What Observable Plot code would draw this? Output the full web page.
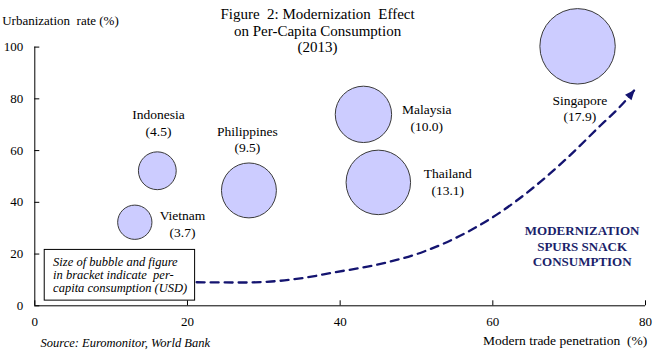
<!DOCTYPE html>
<html><head><meta charset="utf-8">
<script src="https://cdn.jsdelivr.net/npm/d3@7"></script>
<script src="https://cdn.jsdelivr.net/npm/@observablehq/plot@0.6"></script>
<style>
html,body{margin:0;padding:0;background:#fff;}
#chart svg, #chart svg text{font-family:"Liberation Serif","Times New Roman","DejaVu Serif",serif !important;white-space:pre;}
</style></head><body><div id="chart"></div>
<script>
// ---- data ----
const countries = ["Indonesia", "Philippines", "Vietnam", "Malaysia", "Thailand", "Singapore"];
const tradePenetration = [16.05, 28.05, 13.1, 43.05, 45.0, 71.1];   // x (%)
const urbanization     = [52.2, 44.6, 32.3, 74.0, 47.7, 100.3];       // y (%)
const consumption      = [4.5, 9.5, 3.7, 10.0, 13.1, 17.9];           // per-capita USD (bubble size)
const labelX = [16.2, 27.85, 19.35, 51.35, 54.1, 71.4];
const labelY = [70.9, 64.5, 31.9, 72.85, 48.1, 76.6];

// dashed trend arrow
const curveX = [21.2, 27.0, 31.0, 34.8, 39.2, 45.3, 51.0, 56.2, 61.0, 65.4, 69.8, 74.1, 76.8, 78.5];
const curveY = [9.1, 9.0, 9.4, 10.6, 12.9, 16.2, 21.0, 27.8, 36.2, 45.9, 57.3, 69.7, 77.4, 83.2];

const xTicks = [0, 20, 40, 60, 80];
const yTicks = [0, 20, 40, 60, 80, 100];

const titleLines = ["Figure  2: Modernization  Effect", "on Per-Capita Consumption", "(2013)"];
const yTitle = "Urbanization  rate (%)";
const xTitle = "Modern trade penetration  (%)";
const sourceText = "Source: Euromonitor, World Bank";
const noteLines = ["Size of bubble and figure", "in bracket indicate  per-", "capita consumption (USD)"];
const noteBoxX = [1.3, 21.0];
const noteBoxY = [2.0, 21.6];
const noteTextPos = [2.4, 12.0];
const msgLines = ["MODERNIZATION", "SPURS SNACK", "CONSUMPTION"];
const msgPos = [71.7, 23.3];

// ---- layout ----
const W = 666, H = 353;
const mL = 34.3, mR = 21, mT = 46.6, mB = 47.7;
const frameW = W - mL - mR, frameH = H - mT - mB;
const serif = "Liberation Serif";
const navy = "#141470";

const bubbles = countries.map((c, i) => ({c, x: tradePenetration[i], y: urbanization[i], v: consumption[i], lx: labelX[i], ly: labelY[i]}));
const curve = curveX.map((x, i) => ({x, y: curveY[i]}));

const chart = Plot.plot({
  width: W, height: H,
  marginLeft: mL, marginRight: mR, marginTop: mT, marginBottom: mB,
  style: {fontFamily: serif, fontSize: "13px", color: "#000", background: "#fff"},
  x: {domain: [0, 80], ticks: xTicks, tickSize: 0, tickPadding: 11, label: null},
  y: {domain: [0, 100], ticks: yTicks, tickSize: 0, tickPadding: 11.5, label: null},
  r: {type: "sqrt", domain: [0, 17.9], range: [0, 37.7]},
  marks: [
    Plot.ruleY([0], {stroke: "#000", strokeWidth: 1}),
    Plot.ruleX([0], {stroke: "#000", strokeWidth: 1}),
    Plot.tickX(xTicks, {x: d => d, insetTop: frameH - 5, stroke: "#000"}),
    Plot.tickY(yTicks, {y: d => d, insetRight: frameW - 5, stroke: "#000"}),
    Plot.line(curve, {x: "x", y: "y", curve: "monotone-x", stroke: navy, strokeWidth: 2.3, strokeDasharray: "8,6", markerEnd: "arrow"}),
    Plot.rect([0], {x1: noteBoxX[0], x2: noteBoxX[1], y1: noteBoxY[0], y2: noteBoxY[1], fill: "#fff", stroke: "#000", strokeWidth: 1}),
    Plot.text([noteLines.join("\n")], {x: noteTextPos[0], y: noteTextPos[1], textAnchor: "start", fontFamily: serif, fontStyle: "italic", fontSize: 12.5, lineHeight: 1.07, fill: "#000"}),
    Plot.dot(bubbles, {x: "x", y: "y", r: "v", fill: "#ccccff", stroke: "#3a3a3a", strokeWidth: 1}),
    Plot.text(bubbles, {x: "lx", y: "ly", text: d => `${d.c}\n(${d.v.toFixed(1)})`, fontFamily: serif, fontSize: 13.5, lineHeight: 1.2, fill: "#000"}),
    Plot.text([msgLines.join("\n")], {x: msgPos[0], y: msgPos[1], fontFamily: serif, fontWeight: "bold", fontSize: 13, lineHeight: 1.2, fill: "#1b1f6b"}),
    Plot.text([titleLines.join("\n")], {frameAnchor: "top", dx: -22.6, dy: -16.6, lineAnchor: "middle", fontFamily: serif, fontSize: 15, lineHeight: 1.11, fill: "#000"}),
    Plot.text([yTitle], {frameAnchor: "top-left", dx: -32.6, dy: -26.6, textAnchor: "start", lineAnchor: "middle", fontFamily: serif, fontSize: 13, fill: "#000"}),
    Plot.text([xTitle], {frameAnchor: "bottom-right", dx: 1.7, dy: 34.7, textAnchor: "end", lineAnchor: "middle", fontFamily: serif, fontSize: 13.5, fill: "#000"}),
    Plot.text([sourceText], {frameAnchor: "bottom-left", dx: 5.7, dy: 37.4, textAnchor: "start", lineAnchor: "middle", fontFamily: serif, fontStyle: "italic", fontSize: 12.5, fill: "#000"})
  ]
});

// filled arrowhead instead of the open chevron
chart.querySelectorAll("marker").forEach(m => {
  const color = m.getAttribute("stroke") || navy;
  m.setAttribute("markerUnits", "userSpaceOnUse");
  m.setAttribute("viewBox", "-5 -5 10 10");
  m.setAttribute("markerWidth", 10);
  m.setAttribute("markerHeight", 10);
  m.setAttribute("overflow", "visible");
  m.setAttribute("stroke", "none");
  m.setAttribute("fill", color);
  m.style.strokeDasharray = "none";
  const p = m.querySelector("path");
  if (p) { p.setAttribute("d", "M-9,-4.2L1.2,0L-9,4.2Z"); p.setAttribute("stroke", "none"); p.setAttribute("fill", color); }
});

document.getElementById("chart").appendChild(chart);
</script>
</body></html>
